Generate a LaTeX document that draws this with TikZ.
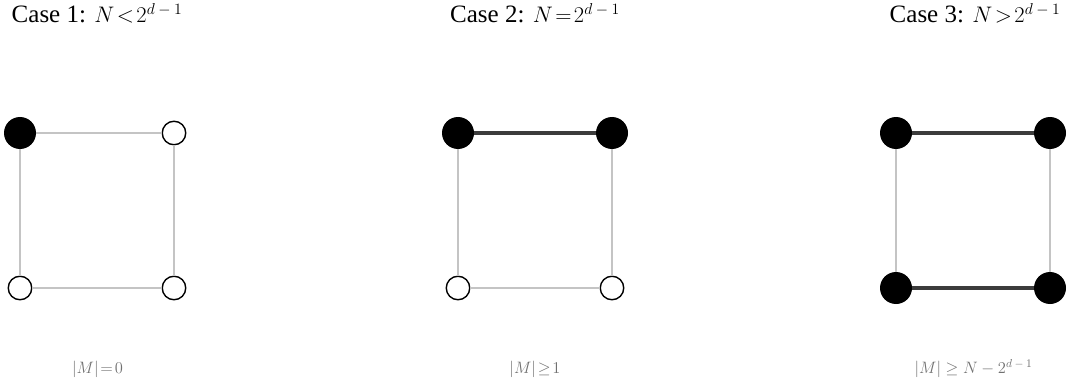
\RequirePackage{fix-cm}
\documentclass[tikz,border=0pt]{standalone}
\usepackage{fontspec}
\setmainfont{Liberation Serif}
\definecolor{edgegray}{HTML}{C4C4C4}
\definecolor{matchgray}{HTML}{3C3C3C}
\definecolor{labelgray}{HTML}{707070}
\tikzset{
  filledv/.style={circle, fill=black, minimum size=32pt, inner sep=0pt},
  openv/.style={circle, draw=black, fill=white, line width=1.4pt, minimum size=23.5pt, inner sep=0pt},
  plainedge/.style={draw=edgegray, line width=1.3pt},
  matchedge/.style={draw=matchgray, line width=3.8pt},
  titletext/.style={anchor=base, inner sep=0pt, font=\rmfamily\fontsize{25}{29}\selectfont},
  sublabel/.style={anchor=base, inner sep=0pt, text=labelgray, font=\fontsize{16.5}{20}\selectfont}
}
\newcommand{\dmo}{d\mskip4mu-\mskip4mu1}
\newcommand{\trel}[1]{\mskip2mu{#1}\mskip2mu}
\newcommand{\tmath}[1]{{\fontsize{22.5}{27}\selectfont$#1$}}
\begin{document}
\begin{tikzpicture}[x=1pt, y=-1pt]
\useasboundingbox (0,0) rectangle (1070,385);

% Case 1
\node[filledv] (a1) at (20,133) {};
\node[openv] (b1) at (174,133) {};
\node[openv] (c1) at (20,288) {};
\node[openv] (d1) at (174,288) {};
% Case 2
\node[filledv] (a2) at (458,133) {};
\node[filledv] (b2) at (612,133) {};
\node[openv] (c2) at (458,288) {};
\node[openv] (d2) at (612,288) {};
% Case 3
\node[filledv] (a3) at (896,133) {};
\node[filledv] (b3) at (1050,133) {};
\node[filledv] (c3) at (896,288) {};
\node[filledv] (d3) at (1050,288) {};

\path[plainedge] (a1) -- (b1);
\path[plainedge] (a1) -- (c1);
\path[plainedge] (b1) -- (d1);
\path[plainedge] (c1) -- (d1);

\path[matchedge] (a2) -- (b2);
\path[plainedge] (a2) -- (c2);
\path[plainedge] (b2) -- (d2);
\path[plainedge] (c2) -- (d2);

\path[matchedge] (a3) -- (b3);
\path[plainedge] (a3) -- (c3);
\path[plainedge] (b3) -- (d3);
\path[matchedge] (c3) -- (d3);

% titles
\node[titletext] (t1) at (97,23) {Case 1: \tmath{N\trel{<}2^{\dmo}}};
\node[titletext] (t2) at (535,23) {Case 2: \tmath{N\trel{=}2^{\dmo}}};
\node[titletext] (t3) at (975,23) {Case 3: \tmath{N\trel{>}2^{\dmo}}};

% sub labels
\node[sublabel] (l1) at (97.5,373) {$|M|\trel{=}0$};
\node[sublabel] (l2) at (535,373) {$|M|\trel{\geq}1$};
\node[sublabel] (l3) at (973.5,373) {$|M|\geq N-2^{\dmo}$};
\end{tikzpicture}
\end{document}
